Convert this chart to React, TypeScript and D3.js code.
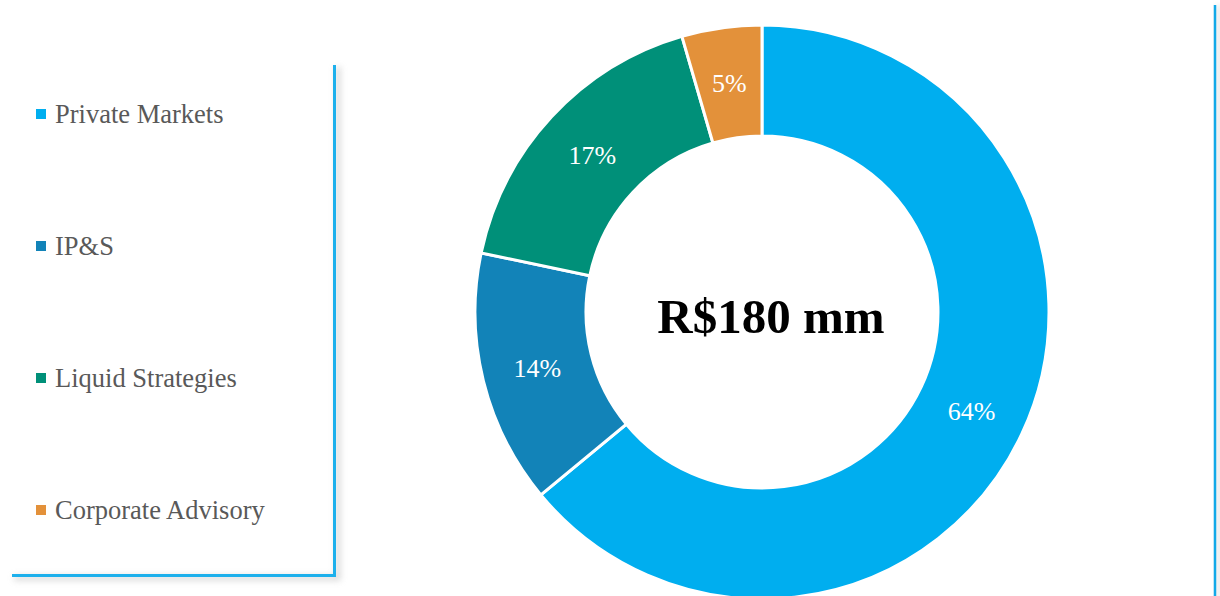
import React from "react";
import * as d3 from "d3";

const categories = ["Private Markets", "IP&S", "Liquid Strategies", "Corporate Advisory"];
const values = [64, 14.3, 17.2, 4.5];
const colors = ["#00AEEF", "#1283B8", "#009079", "#E3913A"];
const centerLabel = "R$180 mm";

const W = 1220;
const H = 596;
const FONT = "'Liberation Serif', 'DejaVu Serif', serif";

export default function App() {
  const cx = 762;
  const cy = 312;
  const outerR = 287;
  const innerR = 176;
  const pie = d3.pie<number>().sort(null).value((d) => d)(values);
  const arc = d3.arc<d3.PieArcDatum<number>>().innerRadius(innerR).outerRadius(outerR);
  const total = d3.sum(values);
  const legendY = d3.scalePoint<string>().domain(categories).range([114, 510]);

  return (
    <svg width={W} height={H} style={{ position: "absolute", left: 0, top: 0, background: "#fff" }}>
      <defs>
        <filter id="sh" x="-50%" y="-50%" width="200%" height="200%">
          <feGaussianBlur stdDeviation="3" />
        </filter>
      </defs>
      {/* legend box shadow and border */}
      <path d="M 14 578 H 338 V 67" fill="none" stroke="#c8c8c8" strokeWidth={5} filter="url(#sh)" opacity={0.7} />
      <path d="M 12 575.5 H 334.5 V 65" fill="none" stroke="#1DB0EC" strokeWidth={3} />
      {/* right separator */}
      <rect x={1216} y={5} width={6} height={H} fill="#d8d8d8" filter="url(#sh)" opacity={0.6} />
      <line x1={1215} x2={1215} y1={5} y2={H} stroke="#12A9E8" strokeWidth={2.5} />

      <g transform={`translate(${cx},${cy})`}>
        {pie.map((p, i) => (
          <path key={i} d={arc(p) || ""} fill={colors[i]} stroke="#fff" strokeWidth={3} />
        ))}
        {pie.map((p, i) => {
          const [x, y] = arc.centroid(p);
          return (
            <text key={"t" + i} x={x} y={y} dy="0.35em" textAnchor="middle" fill="#fff"
              fontFamily={FONT} fontSize={26}>
              {Math.round((p.data / total) * 100)}%
            </text>
          );
        })}
      </g>
      <text x={771} y={333} textAnchor="middle" fontFamily={FONT} fontWeight="bold" fontSize={49} fill="#000">
        {centerLabel}
      </text>

      {categories.map((c, i) => (
        <g key={c} transform={`translate(0,${legendY(c)})`}>
          <rect x={36} y={-5} width={10} height={10} fill={colors[i]} />
          <text x={55} y={0} dy="0.35em" fontFamily={FONT} fontSize={26.5} fill="#595959">
            {c}
          </text>
        </g>
      ))}
    </svg>
  );
}
